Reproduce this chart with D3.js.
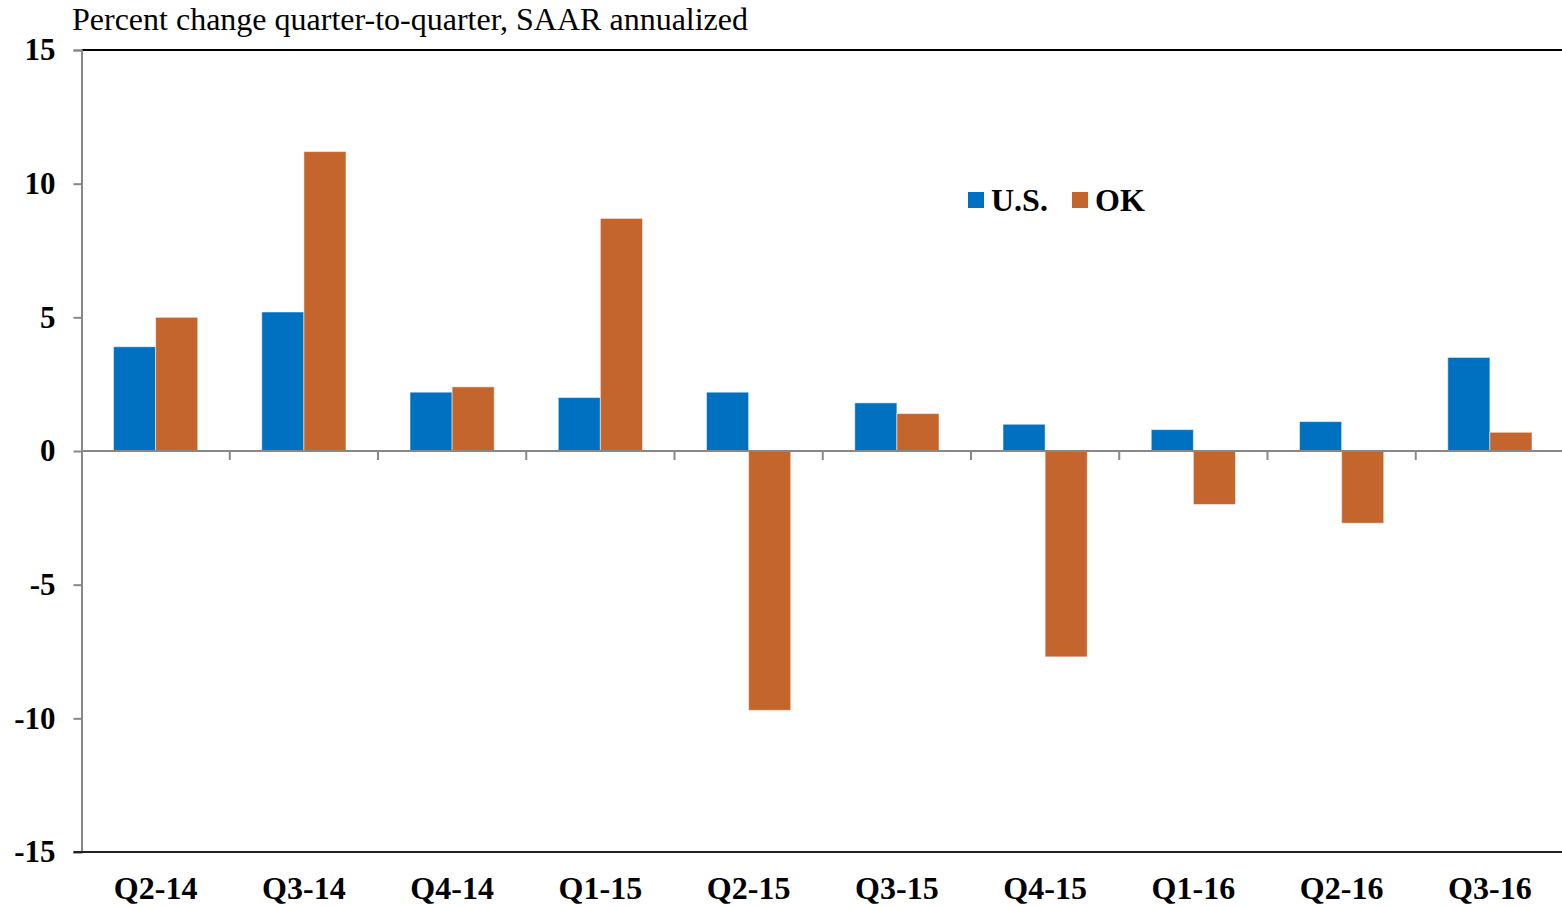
<!DOCTYPE html>
<html><head><meta charset="utf-8">
<script src="https://cdn.jsdelivr.net/npm/d3@7"></script>
<style>body{margin:0;background:#fff}svg{display:block}text{font-family:"Liberation Serif","Times New Roman",serif}</style>
</head><body><svg id="c" width="1562" height="907"></svg>
<script>
const categories = ["Q2-14","Q3-14","Q4-14","Q1-15","Q2-15","Q3-15","Q4-15","Q1-16","Q2-16","Q3-16"];
const seriesNames = ["U.S.","OK"];
const usValues = [3.9, 5.2, 2.2, 2.0, 2.2, 1.8, 1.0, 0.8, 1.1, 3.5];
const okValues = [5.0, 11.2, 2.4, 8.7, -9.7, 1.4, -7.7, -2.0, -2.7, 0.7];
const yTicks = [-15, -10, -5, 0, 5, 10, 15];
const colors = ["#0070C0", "#C4652D"];
const titleText = "Percent change quarter-to-quarter, SAAR annualized";

const svg = d3.select("#c");
const pLeft = 81.5, pRight = 1564, pTop = 50, pBottom = 852;
const x0 = d3.scaleBand().domain(categories).range([pLeft, pRight]).paddingInner(0.432).paddingOuter(0.216);
const x1 = d3.scaleBand().domain(seriesNames).range([0, x0.bandwidth()]);
const y = d3.scaleLinear().domain([-15, 15]).range([pBottom, pTop]);
const data = categories.map((c, i) => ({c, vals: [usValues[i], okValues[i]]}));
const serif = '"Liberation Serif","Times New Roman",serif';

// title
svg.append("text").attr("x", 72).attr("y", 30).attr("font-size", 32).attr("font-family", serif).attr("fill", "#000").text(titleText);

// top border
svg.append("line").attr("x1", pLeft).attr("x2", 1562).attr("y1", y(15)).attr("y2", y(15)).attr("stroke", "#000").attr("stroke-width", 2);

// y axis
const yAxis = svg.append("g").attr("transform", `translate(${pLeft},0)`)
  .call(d3.axisLeft(y).tickValues(yTicks).tickSize(8).tickPadding(18).tickFormat(d => String(d)));
yAxis.select(".domain").attr("stroke", "#888").attr("stroke-width", 2);
yAxis.selectAll(".tick line").attr("stroke", "#888").attr("stroke-width", 2);
yAxis.selectAll(".tick text").attr("font-size", 31).attr("font-weight", "bold").attr("fill", "#000")
  .attr("font-family", serif).attr("dy", "0.32em");

// bars
const g = svg.append("g");
data.forEach(d => {
  d.vals.forEach((v, j) => {
    g.append("rect")
      .attr("x", x0(d.c) + x1(seriesNames[j]))
      .attr("width", x1.bandwidth())
      .attr("y", y(Math.max(0, v)))
      .attr("height", Math.abs(y(v) - y(0)))
      .attr("fill", colors[j])
      .attr("stroke", "rgba(255,255,255,0.5)").attr("stroke-width", 1);
  });
});

// zero line with category ticks
svg.append("line").attr("x1", pLeft).attr("x2", 1562).attr("y1", y(0)).attr("y2", y(0)).attr("stroke", "#888").attr("stroke-width", 2);
const step = x0.step();
categories.slice(1).forEach(c => {
  const bx = x0(c) - x0.paddingInner() * step / 2;
  svg.append("line").attr("x1", bx).attr("x2", bx).attr("y1", y(0)).attr("y2", y(0) + 9).attr("stroke", "#888").attr("stroke-width", 2);
});

// bottom axis line
svg.append("line").attr("x1", pLeft - 8).attr("x2", 1562).attr("y1", y(-15)).attr("y2", y(-15)).attr("stroke", "#222").attr("stroke-width", 2);

// x labels
const xAxis = svg.append("g").attr("transform", `translate(0,${pBottom})`)
  .call(d3.axisBottom(x0).tickSize(0).tickPadding(24));
xAxis.select(".domain").remove();
xAxis.selectAll(".tick text").attr("font-size", 32).attr("font-weight", "bold").attr("fill", "#000")
  .attr("font-family", serif);

// legend
const legend = svg.append("g");
const lx = [968, 1072];
seriesNames.forEach((s, j) => {
  legend.append("rect").attr("x", lx[j]).attr("y", 192).attr("width", 16).attr("height", 16).attr("fill", colors[j]);
  legend.append("text").attr("x", lx[j] + 23).attr("y", 211).attr("font-size", 32).attr("font-weight", "bold").attr("font-family", serif).attr("fill", "#000").text(s);
});
</script></body></html>
